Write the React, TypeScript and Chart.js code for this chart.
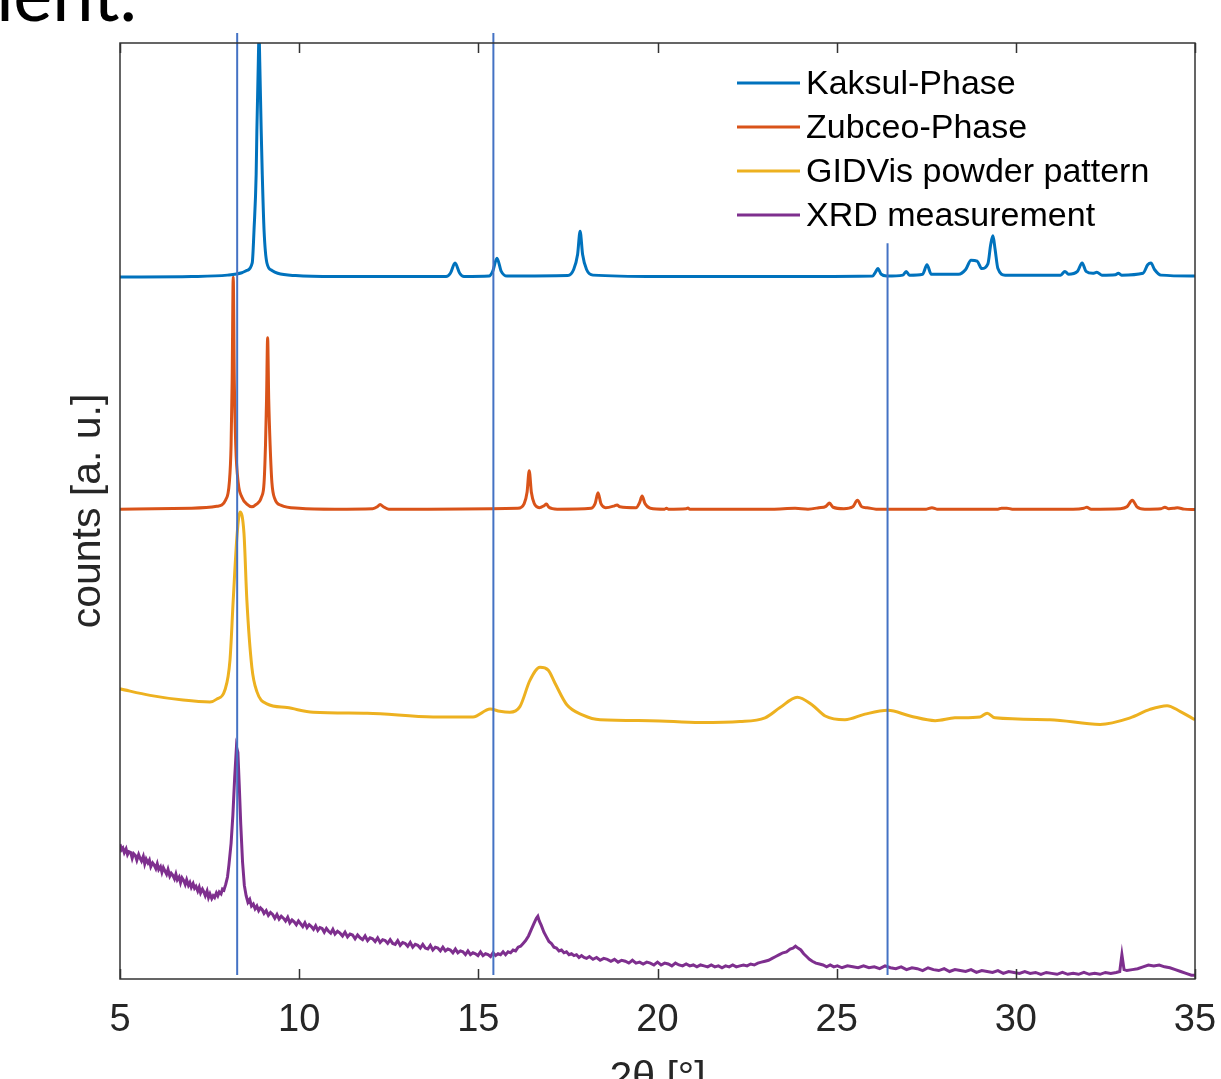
import { useEffect, useRef } from "react";
import { Chart, registerables } from "chart.js";

Chart.register(...registerables);

// ---------- DATA (2θ in degrees, intensity in arbitrary units, offset stacked) ----------
const kaksulPhase: [number, number][] = [
  [5, 75.0], [7.0, 75.05], [8.0, 75.2], [8.4, 75.45], [8.54, 75.7], [8.69, 76.5], [8.74, 80], [8.8, 86],
  [8.82, 90.7], [8.86, 98], [8.88, 101], [8.9, 98], [8.94, 90.7], [8.97, 86], [9.02, 80], [9.1, 76.5],
  [9.24, 75.7], [9.4, 75.4], [9.9, 75.15], [11, 75.05], [14.1, 75.05], [14.22, 75.4], [14.35, 76.5],
  [14.48, 75.4], [14.6, 75.05], [15.3, 75.1], [15.4, 75.6], [15.52, 77.0], [15.64, 75.6], [15.8, 75.1],
  [17.5, 75.15], [17.66, 75.8], [17.77, 77.4], [17.84, 79.9], [17.91, 77.4], [18.02, 75.8], [18.2, 75.2],
  [20.0, 75.05], [24.0, 75.05], [26.0, 75.1], [26.08, 75.5], [26.15, 75.9], [26.24, 75.3], [26.4, 75.1],
  [26.85, 75.2], [26.94, 75.6], [27.03, 75.2], [27.4, 75.3], [27.52, 76.3], [27.64, 75.3], [28.4, 75.3],
  [28.6, 75.8], [28.75, 76.8], [28.92, 76.7], [29.05, 75.9], [29.22, 76.4], [29.3, 78.5], [29.36, 79.4],
  [29.42, 78.0], [29.5, 75.9], [29.7, 75.2], [31.25, 75.2], [31.37, 75.6], [31.47, 75.3], [31.72, 75.6],
  [31.85, 76.5], [31.96, 75.6], [32.15, 75.4], [32.26, 75.5], [32.4, 75.2], [32.78, 75.25], [32.86, 75.4],
  [32.95, 75.2], [33.55, 75.4], [33.68, 76.3], [33.77, 76.5], [33.87, 75.8], [34.05, 75.2], [35, 75.1],
];

const zubceoPhase: [number, number][] = [
  [5, 50.2], [7.0, 50.3], [7.7, 50.5], [7.95, 51.2], [8.05, 53], [8.1, 57], [8.13, 64], [8.16, 75],
  [8.19, 64], [8.23, 57], [8.3, 53], [8.4, 51.5], [8.55, 50.7], [8.68, 50.45], [8.8, 50.7], [8.95, 51.5],
  [9.02, 53], [9.06, 57], [9.09, 62], [9.12, 68.5], [9.15, 62], [9.19, 57], [9.24, 53], [9.32, 51.3],
  [9.5, 50.6], [10, 50.3], [11, 50.2], [12.05, 50.25], [12.18, 50.45], [12.26, 50.7], [12.35, 50.45],
  [12.5, 50.2], [16.1, 50.3], [16.28, 50.8], [16.36, 52], [16.42, 54.3], [16.48, 52], [16.56, 50.8],
  [16.7, 50.35], [16.83, 50.55], [16.9, 50.75], [16.97, 50.4], [17.2, 50.2], [18.15, 50.3], [18.26, 50.8],
  [18.34, 51.95], [18.42, 50.8], [18.55, 50.35], [18.8, 50.55], [18.87, 50.65], [18.95, 50.45], [19.4, 50.35],
  [19.5, 50.9], [19.57, 51.6], [19.65, 50.8], [19.8, 50.3], [20.2, 50.2], [20.25, 50.3], [20.3, 50.2],
  [20.8, 50.25], [20.85, 50.32], [20.9, 50.2], [23.2, 50.2], [23.84, 50.3], [24.2, 50.2], [24.5, 50.35],
  [24.7, 50.5], [24.8, 50.85], [24.9, 50.4], [25.2, 50.25], [25.45, 50.45], [25.58, 51.15], [25.7, 50.45],
  [25.85, 50.35], [26.1, 50.2], [27.5, 50.2], [27.66, 50.35], [27.8, 50.2], [29.5, 50.2], [29.6, 50.3],
  [29.75, 50.3], [29.9, 50.2], [31.6, 50.2], [31.9, 50.3], [31.98, 50.4], [32.1, 50.2], [32.9, 50.25],
  [33.1, 50.45], [33.25, 51.15], [33.38, 50.45], [33.6, 50.2], [34.05, 50.25], [34.16, 50.4], [34.27, 50.25],
  [34.42, 50.3], [34.51, 50.35], [34.7, 50.2], [35, 50.15],
];

const gidvisPattern: [number, number][] = [
  [5, 31.0], [5.84, 30.3], [6.76, 29.8], [7.51, 29.6], [7.7, 29.9], [7.93, 30.9], [8.07, 34.1],
  [8.16, 40.5], [8.27, 47.6], [8.35, 49.9], [8.46, 47.6], [8.54, 40.5], [8.68, 33.3], [8.82, 30.7],
  [9.1, 29.4], [9.66, 29.0], [10.39, 28.5], [11.9, 28.4], [13.74, 28.0], [14.85, 28.0], [15.33, 28.85],
  [15.6, 28.6], [15.88, 28.5], [16.16, 29.1], [16.44, 31.9], [16.72, 33.3], [16.95, 33.0], [17.14, 31.6],
  [17.47, 29.3], [17.92, 28.2], [18.4, 27.7], [19.79, 27.6], [21.19, 27.4], [22.3, 27.5], [23.0, 27.9],
  [23.42, 29.0], [23.9, 30.1], [24.31, 29.3], [24.68, 28.1], [25.23, 27.7], [25.79, 28.3], [26.43, 28.7],
  [27.05, 28.1], [27.75, 27.6], [28.3, 27.9], [29.0, 28.0], [29.2, 28.4], [29.42, 27.9], [30.95, 27.7],
  [32.35, 27.2], [33.19, 27.9], [33.74, 28.8], [34.22, 29.2], [34.58, 28.6], [35, 27.7],
];

const xrdMeasurement: [number, number][] = [
  [5.0, 14.4], [5.04, 13.8], [5.08, 14.0], [5.12, 13.5], [5.17, 13.9], [5.21, 13.3], [5.25, 13.6], [5.3, 13.5],
  [5.34, 12.9], [5.38, 13.4], [5.43, 13.2], [5.47, 12.7], [5.52, 13.3], [5.56, 12.9], [5.6, 12.6], [5.65, 13.1],
  [5.69, 12.3], [5.73, 12.8], [5.78, 12.4], [5.82, 12.7], [5.86, 12.0], [5.91, 12.4], [5.95, 12.2], [6.0, 11.8],
  [6.04, 12.3], [6.08, 11.7], [6.13, 12.0], [6.17, 11.4], [6.21, 11.9], [6.26, 11.5], [6.3, 11.2], [6.34, 11.7],
  [6.39, 11.0], [6.43, 11.3], [6.47, 11.1], [6.52, 10.7], [6.56, 11.2], [6.6, 10.6], [6.65, 10.9], [6.69, 10.3],
  [6.73, 10.8], [6.78, 10.5], [6.82, 10.1], [6.86, 10.6], [6.91, 10.0], [6.95, 10.3], [6.99, 9.8], [7.04, 10.2],
  [7.08, 9.7], [7.12, 9.9], [7.17, 9.4], [7.21, 9.8], [7.25, 9.2], [7.3, 9.6], [7.34, 9.3], [7.38, 8.9],
  [7.43, 9.4], [7.47, 8.7], [7.51, 9.1], [7.56, 8.6], [7.6, 8.9], [7.64, 8.7], [7.69, 9.2], [7.73, 8.9],
  [7.77, 9.3], [7.82, 9.1], [7.86, 9.6], [7.9, 9.5], [7.95, 10.1], [8.0, 10.9], [8.04, 12.2], [8.1, 14.5],
  [8.15, 17.5], [8.2, 21.5], [8.25, 24.8], [8.29, 24.2], [8.33, 20.5], [8.37, 16.5], [8.42, 12.5], [8.47, 10.0],
  [8.52, 8.9], [8.57, 8.2], [8.62, 8.5], [8.67, 7.8], [8.72, 8.0], [8.77, 7.5], [8.82, 7.8], [8.87, 7.3],
  [8.92, 7.6], [8.97, 7.4], [9.02, 7.0], [9.08, 7.3], [9.14, 6.8], [9.2, 7.1], [9.26, 6.9], [9.32, 6.5],
  [9.38, 6.9], [9.44, 6.4], [9.5, 6.7], [9.56, 6.5], [9.62, 6.2], [9.68, 6.6], [9.74, 6.0], [9.8, 6.3],
  [9.86, 6.1], [9.92, 5.8], [9.98, 6.2], [10.04, 5.9], [10.1, 5.6], [10.16, 6.0], [10.22, 5.5], [10.28, 5.8],
  [10.34, 5.6], [10.4, 5.3], [10.46, 5.7], [10.52, 5.2], [10.58, 5.5], [10.64, 5.4], [10.7, 5.0], [10.76, 5.4],
  [10.82, 5.1], [10.88, 4.9], [10.94, 5.3], [11.0, 4.8], [11.07, 5.1], [11.14, 4.9], [11.21, 4.6], [11.28, 5.0],
  [11.35, 4.5], [11.42, 4.8], [11.49, 4.7], [11.56, 4.3], [11.63, 4.7], [11.7, 4.4], [11.77, 4.2], [11.84, 4.6],
  [11.91, 4.1], [11.98, 4.4], [12.05, 4.3], [12.12, 4.0], [12.19, 4.4], [12.26, 3.9], [12.33, 4.2], [12.4, 4.1],
  [12.47, 3.8], [12.54, 4.2], [12.61, 3.8], [12.68, 3.7], [12.75, 4.1], [12.82, 3.6], [12.89, 3.9], [12.96, 3.8],
  [13.03, 3.5], [13.1, 3.9], [13.17, 3.4], [13.24, 3.7], [13.31, 3.6], [13.38, 3.3], [13.45, 3.7], [13.52, 3.3],
  [13.59, 3.2], [13.66, 3.6], [13.73, 3.1], [13.8, 3.4], [13.87, 3.3], [13.94, 3.0], [14.01, 3.4], [14.08, 3.0],
  [14.15, 3.2], [14.22, 3.1], [14.29, 2.8], [14.36, 3.2], [14.43, 2.8], [14.5, 3.0], [14.57, 2.9], [14.64, 2.6],
  [14.71, 3.0], [14.78, 2.6], [14.85, 2.8], [14.92, 2.7], [14.99, 2.5], [15.06, 2.9], [15.13, 2.5], [15.2, 2.7],
  [15.27, 2.6], [15.34, 2.4], [15.41, 2.8], [15.48, 2.5], [15.55, 2.7], [15.62, 2.6], [15.69, 2.9], [15.76, 2.6],
  [15.83, 2.9], [15.9, 2.8], [15.97, 3.1], [16.04, 3.0], [16.11, 3.4], [16.18, 3.5], [16.25, 3.8], [16.32, 4.1],
  [16.4, 4.6], [16.48, 5.3], [16.56, 6.0], [16.62, 6.5], [16.66, 6.7], [16.7, 6.2], [16.76, 5.7], [16.83, 5.0],
  [16.9, 4.5], [16.97, 4.0], [17.04, 3.8], [17.11, 3.4], [17.18, 3.3], [17.25, 3.0], [17.32, 3.1], [17.39, 2.8],
  [17.46, 2.9], [17.53, 2.6], [17.6, 2.7], [17.67, 2.5], [17.74, 2.6], [17.81, 2.3], [17.88, 2.5], [17.95, 2.3],
  [18.02, 2.2], [18.1, 2.4], [18.2, 2.1], [18.3, 2.3], [18.4, 2.0], [18.5, 2.2], [18.6, 2.1], [18.7, 1.9],
  [18.8, 2.1], [18.9, 1.8], [19.0, 2.0], [19.1, 1.9], [19.2, 1.7], [19.3, 2.0], [19.4, 1.7], [19.5, 1.8],
  [19.6, 1.6], [19.7, 1.8], [19.8, 1.7], [19.9, 1.5], [20.0, 1.8], [20.1, 1.5], [20.2, 1.7], [20.3, 1.6],
  [20.4, 1.4], [20.5, 1.7], [20.6, 1.5], [20.7, 1.4], [20.8, 1.6], [20.9, 1.4], [21.0, 1.5], [21.1, 1.3],
  [21.2, 1.5], [21.3, 1.4], [21.4, 1.3], [21.5, 1.5], [21.6, 1.3], [21.7, 1.4], [21.8, 1.2], [21.9, 1.4],
  [22.0, 1.3], [22.1, 1.5], [22.2, 1.3], [22.3, 1.4], [22.4, 1.5], [22.5, 1.4], [22.6, 1.6], [22.7, 1.5],
  [22.8, 1.7], [22.9, 1.8], [23.0, 1.9], [23.1, 2.0], [23.2, 2.2], [23.3, 2.4], [23.4, 2.6], [23.5, 2.8],
  [23.6, 2.9], [23.7, 3.2], [23.78, 3.3], [23.85, 3.5], [23.92, 3.3], [24.0, 3.1], [24.08, 2.7], [24.16, 2.4],
  [24.24, 2.1], [24.32, 1.9], [24.42, 1.7], [24.52, 1.6], [24.62, 1.5], [24.72, 1.3], [24.82, 1.5], [24.92, 1.3],
  [25.02, 1.4], [25.15, 1.2], [25.3, 1.4], [25.45, 1.3], [25.6, 1.2], [25.75, 1.4], [25.9, 1.2], [26.05, 1.3],
  [26.2, 1.1], [26.35, 1.4], [26.5, 1.2], [26.65, 1.1], [26.8, 1.3], [26.95, 1.0], [27.1, 1.2], [27.25, 1.1],
  [27.4, 0.9], [27.55, 1.2], [27.7, 1.0], [27.85, 0.9], [28.0, 1.1], [28.15, 0.8], [28.3, 1.0], [28.45, 0.9],
  [28.6, 0.8], [28.75, 1.0], [28.9, 0.7], [29.05, 0.9], [29.2, 0.8], [29.35, 0.7], [29.5, 0.9], [29.65, 0.6],
  [29.8, 0.8], [29.95, 0.7], [30.1, 0.6], [30.25, 0.8], [30.4, 0.6], [30.55, 0.7], [30.7, 0.5], [30.85, 0.7],
  [31.0, 0.6], [31.15, 0.5], [31.3, 0.7], [31.45, 0.5], [31.6, 0.6], [31.75, 0.5], [31.9, 0.7], [32.05, 0.5],
  [32.2, 0.6], [32.35, 0.5], [32.5, 0.7], [32.65, 0.6], [32.8, 0.7], [32.9, 0.8], [32.96, 2.6], [33.02, 1.0],
  [33.1, 0.9], [33.25, 1.0], [33.4, 1.1], [33.55, 1.3], [33.7, 1.5], [33.85, 1.4], [34.0, 1.5], [34.15, 1.3],
  [34.3, 1.2], [34.45, 1.0], [34.6, 0.8], [34.75, 0.6], [34.9, 0.4], [35.0, 0.4],
];

const seriesNames = ["Kaksul-Phase", "Zubceo-Phase", "GIDVis powder pattern", "XRD measurement"];
const referenceAngles = [8.27, 15.42, 26.42];
const referenceTops = [101.07, 101.07, 78.6];
const referenceBottom = 0.43;
const xTickValues = [5, 10, 15, 20, 25, 30, 35];
const xRange = [5, 35];
const yRange = [0, 100];
const xAxisTitle = "2θ [°]";
const yAxisTitle = "counts [a. u.]";
const pageFragment = "ment.";

// ---------- STYLE ----------
const seriesColors = ["#0072BD", "#D95319", "#EDB120", "#7E2F8E"];
const refColor = "#4472C4";
const axisColor = "#333333";
const FONT = "'Liberation Sans', Arial, sans-serif";

const toXY = (arr: [number, number][]) => arr.map(([x, y]) => ({ x, y }));

const decorPlugin = {
  id: "decor",
  afterDraw(chart: any) {
    const { ctx, chartArea: a, scales } = chart;
    const xs = scales.x;
    ctx.save();
    // axes box
    ctx.strokeStyle = axisColor;
    ctx.lineWidth = 1.5;
    ctx.strokeRect(a.left, a.top, a.right - a.left, a.bottom - a.top);
    // inward ticks on bottom & top
    ctx.beginPath();
    for (const t of xTickValues) {
      const px = Math.round(xs.getPixelForValue(t)) + 0.5;
      ctx.moveTo(px, a.bottom);
      ctx.lineTo(px, a.bottom - 10);
      ctx.moveTo(px, a.top);
      ctx.lineTo(px, a.top + 10);
    }
    ctx.stroke();

    // legend
    const legX0 = 737, legX1 = 800, legTextX = 806;
    const legY = [83, 127, 171, 215];
    ctx.font = `34px ${FONT}`;
    ctx.textBaseline = "middle";
    ctx.textAlign = "left";
    seriesNames.forEach((name, i) => {
      ctx.strokeStyle = seriesColors[i];
      ctx.lineWidth = 3;
      ctx.beginPath();
      ctx.moveTo(legX0, legY[i]);
      ctx.lineTo(legX1, legY[i]);
      ctx.stroke();
      ctx.fillStyle = "#000000";
      ctx.fillText(name, legTextX, legY[i] + 2);
    });

    // axis titles
    ctx.fillStyle = "#262626";
    ctx.font = `41px ${FONT}`;
    ctx.textAlign = "center";
    ctx.textBaseline = "alphabetic";
    ctx.fillText(xAxisTitle, (a.left + a.right) / 2, 1090);
    ctx.save();
    ctx.translate(100, (a.top + a.bottom) / 2);
    ctx.rotate(-Math.PI / 2);
    ctx.fillText(yAxisTitle, 0, 0);
    ctx.restore();

    // cropped slide text
    ctx.fillStyle = "#000000";
    ctx.font = `74px Lato, 'Open Sans', sans-serif`;
    ctx.textAlign = "right";
    ctx.fillText(pageFragment, 137, 21);
    ctx.restore();
  },
};

export default function App() {
  const ref = useRef<HTMLCanvasElement | null>(null);
  useEffect(() => {
    if (!ref.current) return;
    const lineBase = {
      pointRadius: 0,
      fill: false,
      order: 1,
    };
    const datasets: any[] = [
      ...referenceAngles.map((ang, i) => ({
        label: `ref${i}`,
        data: [{ x: ang, y: referenceBottom }, { x: ang, y: referenceTops[i] }],
        borderColor: refColor,
        borderWidth: 2,
        pointRadius: 0,
        clip: false,
        order: 0,
      })),
      { ...lineBase, label: seriesNames[0], data: toXY(kaksulPhase), borderColor: seriesColors[0], borderWidth: 3, cubicInterpolationMode: "monotone" },
      { ...lineBase, label: seriesNames[1], data: toXY(zubceoPhase), borderColor: seriesColors[1], borderWidth: 3, cubicInterpolationMode: "monotone" },
      { ...lineBase, label: seriesNames[2], data: toXY(gidvisPattern), borderColor: seriesColors[2], borderWidth: 3, cubicInterpolationMode: "monotone" },
      { ...lineBase, label: seriesNames[3], data: toXY(xrdMeasurement), borderColor: seriesColors[3], borderWidth: 3, tension: 0 },
    ];
    const chart = new Chart(ref.current, {
      type: "line",
      data: { datasets },
      options: {
        responsive: false,
        animation: false,
        devicePixelRatio: 1,
        layout: { padding: { left: 120, right: 26, top: 43, bottom: 0 } },
        plugins: { legend: { display: false }, tooltip: { enabled: false } },
        scales: {
          x: {
            type: "linear",
            min: xRange[0],
            max: xRange[1],
            afterBuildTicks: (s: any) => {
              s.ticks = xTickValues.map((v) => ({ value: v }));
            },
            afterFit: (s: any) => {
              s.height = 100;
              s.paddingLeft = 0;
              s.paddingRight = 0;
            },
            grid: { display: false },
            border: { display: false },
            ticks: {
              font: { size: 38, family: FONT },
              color: "#262626",
              padding: 11,
              maxRotation: 0,
              autoSkip: false,
            },
          },
          y: { type: "linear", min: yRange[0], max: yRange[1], display: false },
        },
      } as any,
      plugins: [decorPlugin],
    });
    return () => chart.destroy();
  }, []);
  return (
    <div style={{ position: "absolute", left: 0, top: 0, width: 1221, height: 1079, background: "#fff" }}>
      <canvas ref={ref} width={1221} height={1079} style={{ display: "block" }} />
    </div>
  );
}
